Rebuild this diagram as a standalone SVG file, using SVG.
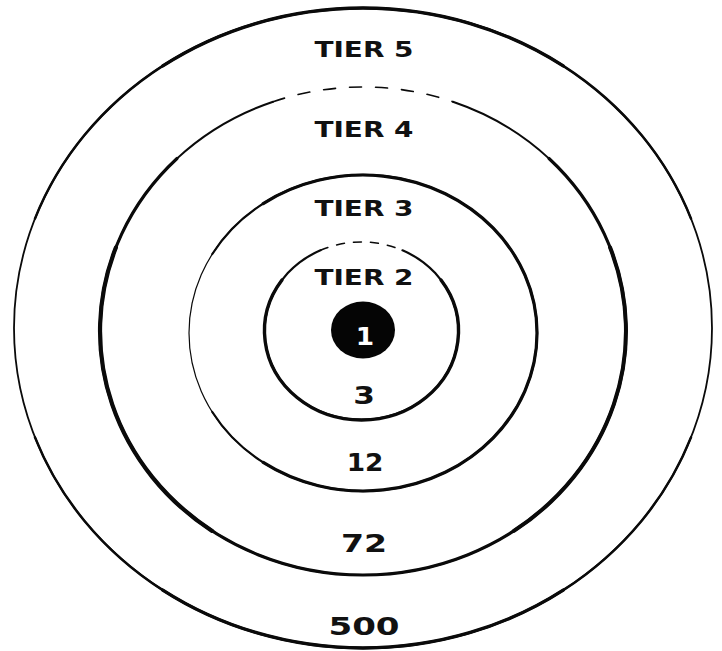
<svg xmlns="http://www.w3.org/2000/svg" width="722" height="651" viewBox="0 0 722 651">
  <style>
    .ring { fill: none; stroke: #0a0a0a; stroke-linecap: round; }
    .lbl { font-family: "DejaVu Sans", "Liberation Sans", sans-serif; font-weight: bold; font-size: 21px; fill: #111; text-anchor: middle; }
    .num { font-family: "DejaVu Sans", "Liberation Sans", sans-serif; font-weight: bold; font-size: 24px; fill: #111; text-anchor: middle; }
  </style>
  <rect width="722" height="651" fill="#ffffff"/>

  <g id="tier5">
    <ellipse class="ring" cx="363" cy="328" rx="349" ry="320" stroke-width="1.8"/>
    <path class="ring" d="M 35 218.6 A 349 320 0 0 1 691 218.6" stroke-width="2.5"/>
    <path class="ring" d="M 162.8 65.9 A 349 320 0 0 1 563.2 65.9" stroke-width="3.4"/>
    <path class="ring" d="M 35 437.4 A 349 320 0 0 0 691 437.4" stroke-width="2.5"/>
    <path class="ring" d="M 162.8 590.1 A 349 320 0 0 0 563.2 590.1" stroke-width="3.4"/>
    <text class="lbl" transform="translate(364,57) scale(1.33,1)">TIER 5</text>
    <text class="num" transform="translate(364,635) scale(1.42,1)">500</text>
  </g>

  <g id="tier4">
    <path class="ring" d="M 273.1 101.7 A 263 244 0 1 0 452.9 101.7" stroke-width="2"/>
    <path class="ring" d="M 177 158.5 A 263 244 0 1 0 549 158.5" stroke-width="3.1"/>
    <path class="ring" d="M 115.9 247.6 A 263 244 0 0 0 212.1 530.9" stroke-width="4.2"/>
    <path class="ring" d="M 610.1 247.6 A 263 244 0 0 1 513.9 530.9" stroke-width="4"/>
    <path class="ring" d="M 273.1 101.7 A 263 244 0 0 1 452.9 101.7" stroke-width="1.6" stroke-dasharray="12 14"/>
    <text class="lbl" transform="translate(364,137) scale(1.33,1)">TIER 4</text>
    <text class="num" transform="translate(364,552) scale(1.38,1)">72</text>
  </g>

  <g id="tier3">
    <ellipse class="ring" cx="363" cy="333" rx="174" ry="158" stroke-width="1.2"/>
    <path class="ring" d="M 212.3 412 A 174 158 0 1 0 212.3 254" stroke-width="2.2"/>
    <path class="ring" d="M 263.2 462.4 A 174 158 0 1 0 263.2 203.6" stroke-width="3.2"/>
    <text class="lbl" transform="translate(364,216) scale(1.33,1)">TIER 3</text>
    <text class="num" transform="translate(365,471) scale(1.1,1)">12</text>
  </g>

  <g id="tier2">
    <path class="ring" d="M 320.5 250.3 A 97 89 0 1 0 402.5 250.3" stroke-width="2.2"/>
    <path class="ring" d="M 282 280 A 97 89 0 1 0 441 280" stroke-width="3.4"/>
    <path class="ring" d="M 320.5 250.3 A 97 89 0 0 1 402.5 250.3" stroke-width="1.5" stroke-dasharray="8 9"/>
    <text class="lbl" transform="translate(364,285) scale(1.33,1)">TIER 2</text>
    <text class="num" transform="translate(364,404) scale(1.3,1)">3</text>
  </g>

  <g id="tier1">
    <ellipse cx="363" cy="330" rx="32" ry="28.5" fill="#050505"/>
    <text class="num" transform="translate(365,345) scale(1.1,1)" style="fill:#ffffff" font-size="23">1</text>
  </g>
</svg>
